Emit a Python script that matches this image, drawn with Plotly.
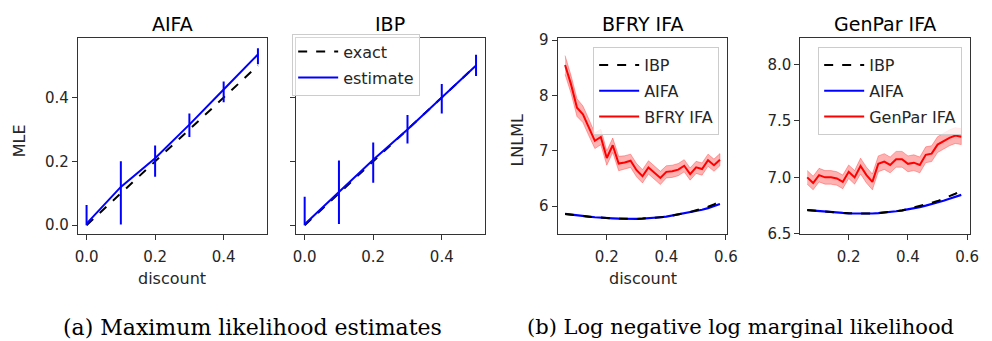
import plotly.graph_objects as go

W, H = 992, 341

# ---------------- data ----------------
mle_discount = [0.0, 0.1, 0.2, 0.3, 0.4, 0.5]
exact_mle = [0.0, 0.1, 0.2, 0.3, 0.4, 0.5]

aifa_est = [0.005, 0.12, 0.21, 0.315, 0.425, 0.535]
aifa_lo = [0.0, 0.002, 0.152, 0.276, 0.385, 0.504]
aifa_hi = [0.063, 0.2, 0.25, 0.35, 0.45, 0.554]

ibp_est = [0.003, 0.105, 0.205, 0.3, 0.4, 0.5]
ibp_lo = [0.0, 0.004, 0.133, 0.256, 0.35, 0.467]
ibp_hi = [0.089, 0.203, 0.259, 0.345, 0.442, 0.534]

disc = [0.06, 0.08, 0.10, 0.12, 0.14, 0.16, 0.18, 0.20, 0.22, 0.24, 0.26, 0.28, 0.30,
        0.32, 0.34, 0.36, 0.38, 0.40, 0.42, 0.44, 0.46, 0.48, 0.50, 0.52, 0.54, 0.56, 0.58]

bfry_ibp = [5.86, 5.845, 5.83, 5.82, 5.81, 5.80, 5.79, 5.785, 5.78, 5.775, 5.77, 5.77, 5.77,
            5.775, 5.78, 5.79, 5.80, 5.81, 5.83, 5.845, 5.87, 5.895, 5.925, 5.955, 5.99, 6.03, 6.09]
bfry_aifa = [5.86, 5.845, 5.83, 5.82, 5.81, 5.80, 5.79, 5.785, 5.78, 5.775, 5.77, 5.77, 5.77,
             5.775, 5.78, 5.79, 5.80, 5.81, 5.83, 5.845, 5.865, 5.885, 5.91, 5.935, 5.965, 6.0, 6.04]
bfry_ifa = [8.55, 8.2, 7.78, 7.66, 7.42, 7.18, 7.25, 6.87, 7.1, 6.77, 6.79, 6.82, 6.65,
            6.54, 6.7, 6.6, 6.51, 6.62, 6.63, 6.66, 6.73, 6.58, 6.7, 6.67, 6.83, 6.74, 6.84]
bfry_ifa_sd = [0.17, 0.16, 0.16, 0.15, 0.15, 0.14, 0.14, 0.13, 0.13, 0.13, 0.12, 0.12, 0.12,
               0.12, 0.12, 0.12, 0.12, 0.11, 0.11, 0.11, 0.11, 0.11, 0.11, 0.11, 0.11, 0.11, 0.11]

gp_ibp = [6.71, 6.705, 6.70, 6.695, 6.69, 6.688, 6.685, 6.682, 6.68, 6.68, 6.68, 6.68, 6.683,
          6.687, 6.692, 6.70, 6.707, 6.72, 6.73, 6.745, 6.76, 6.775, 6.79, 6.81, 6.83, 6.855, 6.88]
gp_aifa = [6.71, 6.705, 6.70, 6.695, 6.69, 6.688, 6.685, 6.682, 6.68, 6.68, 6.68, 6.68, 6.683,
           6.687, 6.692, 6.70, 6.707, 6.715, 6.725, 6.737, 6.75, 6.763, 6.778, 6.793, 6.81, 6.828, 6.845]
gp_ifa = [7.0, 6.95, 7.02, 7.0, 7.0, 6.99, 6.96, 7.05, 7.0, 7.1, 7.02, 6.96, 7.12,
          7.14, 7.11, 7.16, 7.16, 7.12, 7.13, 7.11, 7.2, 7.21, 7.29, 7.32, 7.35, 7.37, 7.36]
gp_ifa_sd = [0.06, 0.06, 0.06, 0.06, 0.06, 0.06, 0.06, 0.06, 0.06, 0.07, 0.07, 0.07, 0.07,
             0.07, 0.07, 0.07, 0.07, 0.07, 0.07, 0.07, 0.07, 0.07, 0.07, 0.07, 0.07, 0.07, 0.07]

titles = ["AIFA", "IBP", "BFRY IFA", "GenPar IFA"]
captions = ["(a) Maximum likelihood estimates", "(b) Log negative log marginal likelihood"]

# ---------------- layout helpers ----------------
def px2x(p):
    return p / W

def py2y(p):
    return 1 - p / H

doms = [(76, 267), (297, 488), (562, 734), (808, 980)]
ytop, ybot = 33, 238
FONT = "DejaVu Sans"
TXT = "#262626"

fig = go.Figure()

BLUE = "#0000ff"
RED = "#ff0000"

# Panel 1: AIFA
fig.add_trace(go.Scatter(x=mle_discount, y=exact_mle, mode="lines",
                         line=dict(color="black", width=2, dash="dash"),
                         xaxis="x", yaxis="y", showlegend=False))
fig.add_trace(go.Scatter(x=mle_discount, y=aifa_est, mode="lines",
                         line=dict(color=BLUE, width=2),
                         error_y=dict(type="data", symmetric=False,
                                      array=[h - c for h, c in zip(aifa_hi, aifa_est)],
                                      arrayminus=[c - l for l, c in zip(aifa_lo, aifa_est)],
                                      color=BLUE, thickness=2, width=0),
                         xaxis="x", yaxis="y", showlegend=False))

# Panel 2: IBP
fig.add_trace(go.Scatter(x=mle_discount, y=exact_mle, mode="lines", name="exact",
                         line=dict(color="black", width=2, dash="dash"),
                         xaxis="x2", yaxis="y2", legend="legend", legendrank=1, legendgroup="a"))
fig.add_trace(go.Scatter(x=mle_discount, y=ibp_est, mode="lines", name="estimate",
                         line=dict(color=BLUE, width=2),
                         error_y=dict(type="data", symmetric=False,
                                      array=[h - c for h, c in zip(ibp_hi, ibp_est)],
                                      arrayminus=[c - l for l, c in zip(ibp_lo, ibp_est)],
                                      color=BLUE, thickness=2, width=0),
                         xaxis="x2", yaxis="y2", legend="legend", legendrank=2, legendgroup="b"))

def band_traces(x, m, sd, xa, ya):
    up = [a + b for a, b in zip(m, sd)]
    lo = [a - b for a, b in zip(m, sd)]
    fig.add_trace(go.Scatter(x=x + x[::-1], y=up + lo[::-1], mode="lines", fill="toself",
                             fillcolor="rgba(255,0,0,0.3)",
                             line=dict(color="rgba(255,0,0,0.3)", width=1),
                             xaxis=xa, yaxis=ya, showlegend=False, hoverinfo="skip"))

# Panel 3: BFRY IFA
band_traces(disc, bfry_ifa, bfry_ifa_sd, "x3", "y3")
fig.add_trace(go.Scatter(x=disc, y=bfry_aifa, mode="lines", name="AIFA",
                         line=dict(color=BLUE, width=2.2), xaxis="x3", yaxis="y3",
                         legend="legend2", legendrank=2, legendgroup="c2"))
fig.add_trace(go.Scatter(x=disc, y=bfry_ibp, mode="lines", name="IBP",
                         line=dict(color="black", width=2, dash="dash"), xaxis="x3", yaxis="y3",
                         legend="legend2", legendrank=1, legendgroup="c1"))
fig.add_trace(go.Scatter(x=disc, y=bfry_ifa, mode="lines", name="BFRY IFA",
                         line=dict(color=RED, width=2), xaxis="x3", yaxis="y3", legend="legend2",
                         legendrank=3, legendgroup="c3"))

# Panel 4: GenPar IFA
band_traces(disc, gp_ifa, gp_ifa_sd, "x4", "y4")
fig.add_trace(go.Scatter(x=disc, y=gp_aifa, mode="lines", name="AIFA",
                         line=dict(color=BLUE, width=2.2), xaxis="x4", yaxis="y4",
                         legend="legend3", legendrank=2, legendgroup="d2"))
fig.add_trace(go.Scatter(x=disc, y=gp_ibp, mode="lines", name="IBP",
                         line=dict(color="black", width=2, dash="dash"), xaxis="x4", yaxis="y4",
                         legend="legend3", legendrank=1, legendgroup="d1"))
fig.add_trace(go.Scatter(x=disc, y=gp_ifa, mode="lines", name="GenPar IFA",
                         line=dict(color=RED, width=2), xaxis="x4", yaxis="y4", legend="legend3",
                         legendrank=3, legendgroup="d3"))

axis_common = dict(showline=True, linecolor="#333333", linewidth=1.2, mirror=True,
                   ticks="outside", ticklen=5, tickcolor="#333333", showgrid=False,
                   zeroline=False, tickfont=dict(family=FONT, size=15, color=TXT))

ydom = [py2y(ybot), py2y(ytop)]
layout = dict(width=W, height=H, margin=dict(l=0, r=0, t=0, b=0),
              paper_bgcolor="white", plot_bgcolor="white", showlegend=True)

xranges = [[-0.025, 0.525], [-0.025, 0.525], [0.035, 0.605], [0.037, 0.61]]
yranges = [[-0.027, 0.585], [-0.027, 0.585], [5.5, 9.03], [6.5, 8.23]]
xtick = [[0.0, 0.2, 0.4], [0.0, 0.2, 0.4], [0.2, 0.4, 0.6], [0.2, 0.4, 0.6]]
ytick = [[0.0, 0.2, 0.4], [0.0, 0.2, 0.4], [6, 7, 8, 9], [6.5, 7.0, 7.5, 8.0]]
yfmt = [".1f", ".1f", "d", ".1f"]

for i in range(4):
    s = "" if i == 0 else str(i + 1)
    layout["xaxis" + s] = dict(axis_common, domain=[px2x(doms[i][0]), px2x(doms[i][1])],
                               range=xranges[i], tickvals=xtick[i], tickformat=".1f",
                               anchor="y" + s, ticklabelstandoff=4)
    layout["yaxis" + s] = dict(axis_common, domain=ydom, range=yranges[i], tickvals=ytick[i],
                               tickformat=yfmt[i], anchor="x" + s,
                               showticklabels=(i != 1))

leg_common = dict(bgcolor="rgba(255,255,255,0.8)", bordercolor="#cccccc", borderwidth=1,
                  font=dict(family=FONT, size=16, color=TXT), xanchor="left", yanchor="top",
                  tracegroupgap=2, itemwidth=40)
layout["legend"] = dict(leg_common, x=px2x(293), y=py2y(28))
layout["legend2"] = dict(leg_common, x=px2x(598), y=py2y(42))
layout["legend3"] = dict(leg_common, x=px2x(826), y=py2y(42))

anns = []
centers = [(a + b) / 2 for a, b in doms]

def ann(text, x, y, size, family=FONT, color=TXT, angle=0):
    anns.append(dict(text=text, x=px2x(x), y=py2y(y), xref="paper", yref="paper",
                     xanchor="center", yanchor="middle", textangle=angle, showarrow=False,
                     font=dict(family=family, size=size, color=color)))

for i, t in enumerate(titles):
    ann(t, centers[i], 18, 19, color="black")
for cx in (centers[0], centers[2]):
    ann("discount", cx, 285, 16)
ann("MLE", 17, 140, 16, angle=-90)
ann("LNLML", 521, 140, 16, angle=-90)
ann(captions[0], 253, 336, 22, family="DejaVu Serif", color="black")
ann(captions[1], 747, 336, 21, family="DejaVu Serif", color="black")
layout["annotations"] = anns

fig.update_layout(**layout)
fig.write_html("out.html")
